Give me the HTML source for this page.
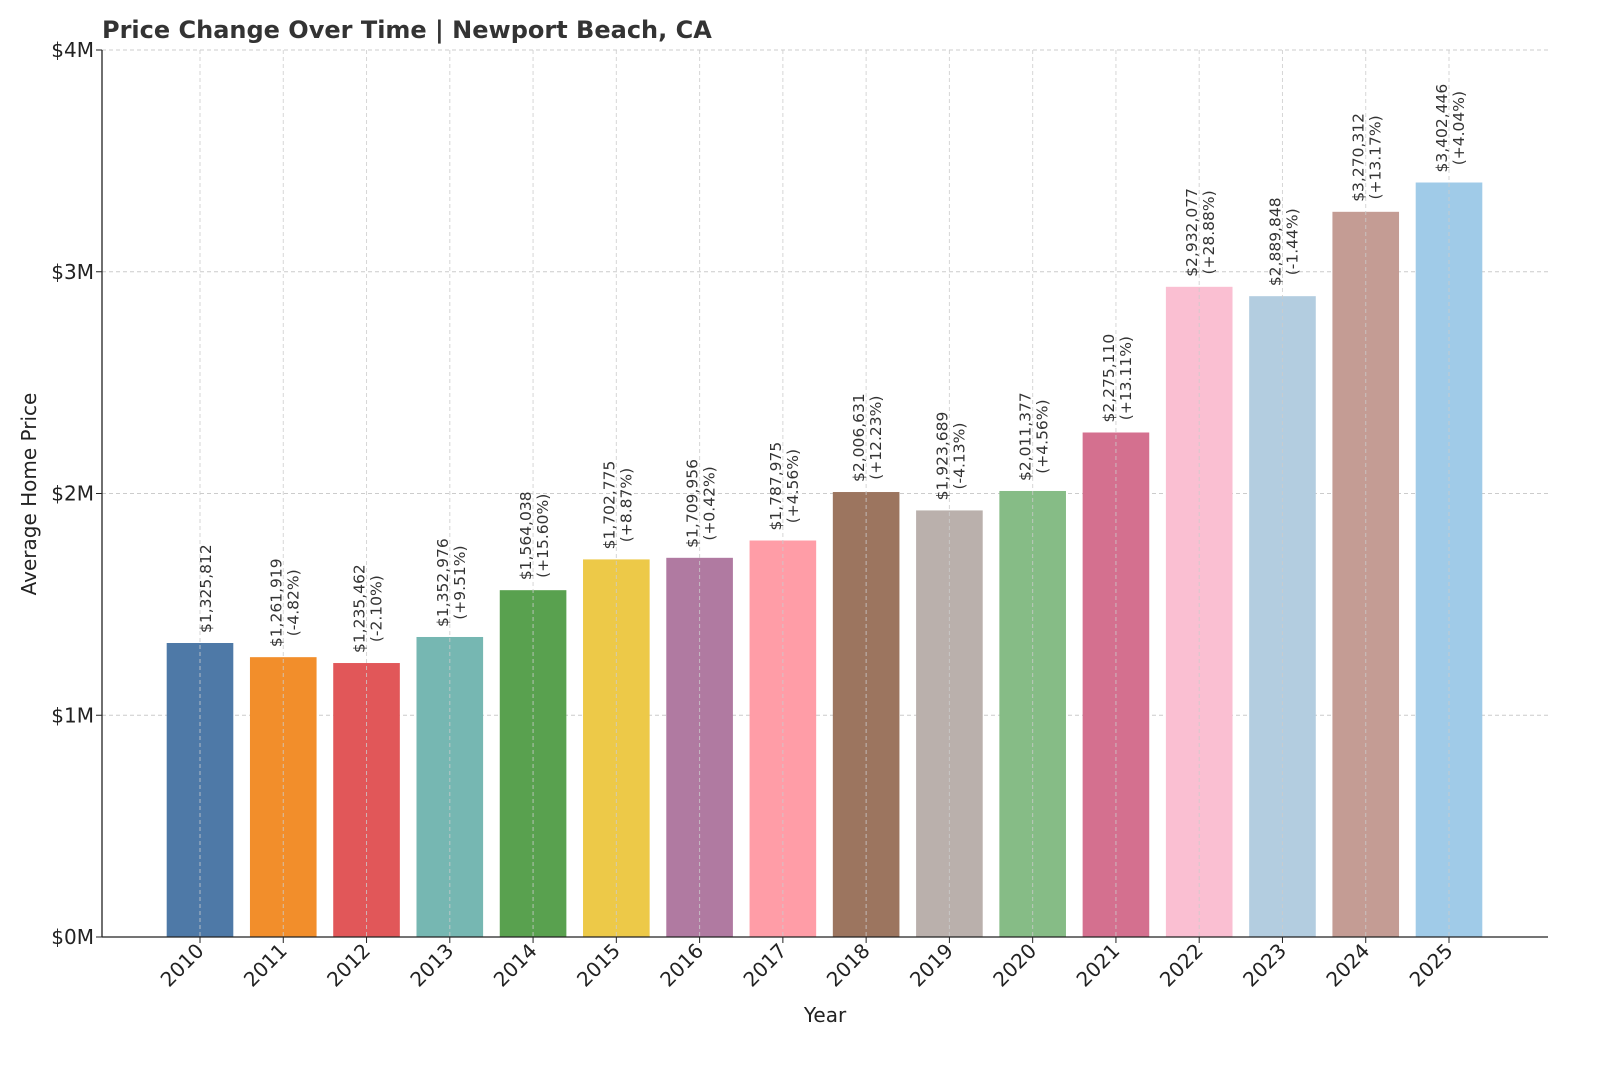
<!DOCTYPE html>
<html><head><meta charset="utf-8"><style>
body{margin:0;background:#fff}
svg{display:block;font-family:"DejaVu Sans","Liberation Sans",sans-serif}
</style></head><body>
<svg id="chart" width="1600" height="1067" viewBox="0 0 1600 1067">
<rect width="1600" height="1067" fill="#fff"/>
<text x="102" y="38" font-size="24" font-weight="bold" fill="#333">Price Change Over Time | Newport Beach, CA</text>
<g id="grid"></g><g id="bars"></g><g id="vgrid"></g><g id="labels"></g><g id="axes"></g>
<text x="825" y="1022" font-size="20" text-anchor="middle" fill="#222">Year</text>
<text transform="translate(36,494) rotate(-90)" font-size="20" text-anchor="middle" fill="#222">Average Home Price</text>
</svg>
<script>
const years=["2010","2011","2012","2013","2014","2015","2016","2017","2018","2019","2020","2021","2022","2023","2024","2025"];
const prices=[1325812,1261919,1235462,1352976,1564038,1702775,1709956,1787975,2006631,1923689,2011377,2275110,2932077,2889848,3270312,3402446];
const pcts=[null,"-4.82%","-2.10%","+9.51%","+15.60%","+8.87%","+0.42%","+4.56%","+12.23%","-4.13%","+4.56%","+13.11%","+28.88%","-1.44%","+13.17%","+4.04%"];
const yTicks=[0,1000000,2000000,3000000,4000000];
const yTickLabels=["$0M","$1M","$2M","$3M","$4M"];
const colors=["#4e79a7","#f28e2b","#e15759","#76b7b2","#59a14f","#edc948","#b07aa1","#ff9da7","#9c755f","#bab0ac","#86bc86","#d4708f","#fabfd2","#b3cde0","#c49c94","#a0cbe8"];
const NS="http://www.w3.org/2000/svg";
const X0=102,X1=1548,Y0=937,Y1=50;
const step=(1449-200)/15;
const x=i=>200+i*step;
const y=v=>Y0-(v/4000000)*(Y0-Y1);
const bw=step*0.8;
function mk(tag,attrs,parent){const e=document.createElementNS(NS,tag);for(const k in attrs)e.setAttribute(k,attrs[k]);document.getElementById(parent).appendChild(e);return e;}
yTicks.forEach((t,i)=>{
 const g=mk("line",{x1:X0,x2:X1,y1:y(t),y2:y(t),stroke:"#ccc","stroke-dasharray":"4,3","stroke-width":1},"grid");
 
 
 const tk=mk("line",{x1:X0-6,x2:X0,y1:y(t),y2:y(t),stroke:"#222"},"axes");
 
 
 const l=mk("text",{x:X0-8,y:y(t)+7,"font-size":20,"text-anchor":"end",fill:"#222"},"axes");
 
 
 l.textContent=yTickLabels[i];
});
years.forEach((yr,i)=>{
 const cx=x(i);
 const b=mk("rect",{x:cx-bw/2,y:y(prices[i]),width:bw,height:Y0-y(prices[i]),fill:colors[i]},"bars");
 
 
 const vg=mk("line",{x1:cx,x2:cx,y1:Y1,y2:Y0,stroke:"#ccc","stroke-dasharray":"4,3","stroke-width":1,opacity:0.8},"vgrid");
 
 
 const top=y(prices[i])-10;
 const val="$"+prices[i].toLocaleString("en-US");
 if(pcts[i]===null){
  const t=mk("text",{transform:`translate(${cx+11},${top}) rotate(-90)`,"font-size":15.5,fill:"#333"},"labels");
  
  
  t.textContent=val;
 } else {
  const t1=mk("text",{transform:`translate(${cx-2},${top}) rotate(-90)`,"font-size":15.5,fill:"#333","text-anchor":"middle"},"labels");
  const t2=mk("text",{transform:`translate(${cx+15},${top}) rotate(-90)`,"font-size":15.5,fill:"#333","text-anchor":"middle"},"labels");
  
  
  
  
  t1.textContent=val;t2.textContent="("+pcts[i]+")";
  const w1=t1.getComputedTextLength(),w2=t2.getComputedTextLength(),m=Math.max(w1,w2);
  t1.setAttribute("transform",`translate(${cx-2},${top-m/2}) rotate(-90)`);
  t2.setAttribute("transform",`translate(${cx+15},${top-m/2}) rotate(-90)`);
 }
 const tk=mk("line",{x1:cx,x2:cx,y1:Y0,y2:Y0+6,stroke:"#222"},"axes");
 
 
 const l=mk("text",{transform:`translate(${cx+5},${Y0+15}) rotate(-45)`,"font-size":20,"text-anchor":"end",fill:"#222"},"axes");
 
 
 l.textContent=yr;
});
const ax1=mk("line",{x1:X0,x2:X0,y1:Y1,y2:Y0,stroke:"#222","stroke-width":1.3},"axes");


const ax2=mk("line",{x1:X0,x2:X1,y1:Y0,y2:Y0,stroke:"#222","stroke-width":1.3},"axes");


</script>
</body></html>
